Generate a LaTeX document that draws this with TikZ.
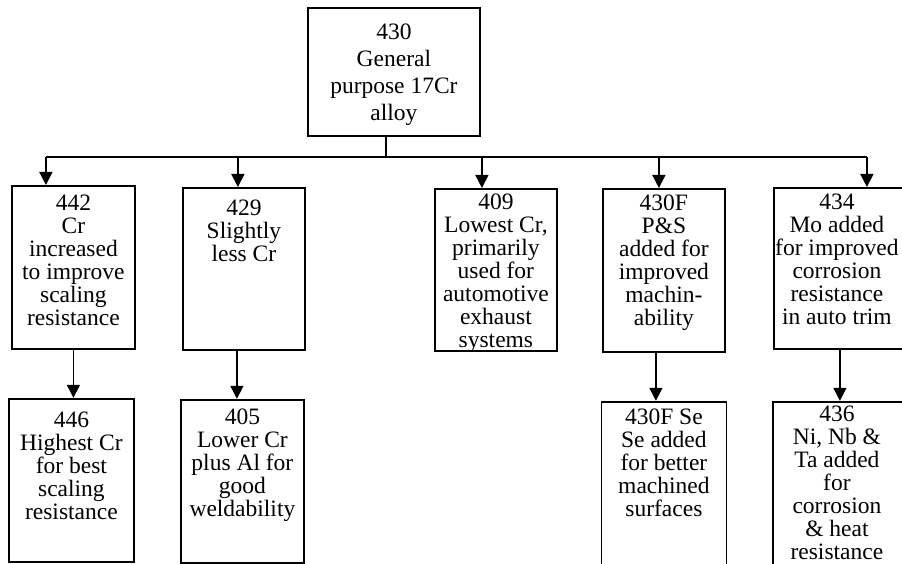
\documentclass[tikz,border=0pt]{standalone}
\usepackage{fontspec}
\setmainfont{Liberation Serif}
\usetikzlibrary{arrows.meta, positioning}
\tikzset{
  alloybox/.style={
    rectangle, draw=black, line width=1.8pt, fill=white,
    minimum width=122pt, minimum height=162pt, inner sep=0pt,
    anchor=north west
  },
  alloytext/.style={
    align=center, inner sep=0pt, font=\fontsize{23.5}{23}\selectfont
  },
  busline/.style={line width=1.5pt, draw=black},
  arrowflow/.style={-{Triangle[width=13pt,length=13pt]}, line width=1.5pt, draw=black}
}

\begin{document}
\begin{tikzpicture}[x=1pt, y=-1pt]
\useasboundingbox (0,0) rectangle (902,564);
\clip (0,0) rectangle (902,564);

% -------- PARENT GRADE --------
\node[alloybox, minimum width=172pt, minimum height=128pt] (n430) at (307,7) {};
\node[alloytext, font=\fontsize{23.5}{27}\selectfont, below=17pt of n430.north] (t430)
  {430\\General\\purpose 17Cr\\alloy};

% -------- FIRST ROW OF VARIANTS --------
\node[alloybox, minimum width=123pt, minimum height=163pt] (n442) at (11,185) {};
\node[alloybox] (n429) at (182,187) {};
\node[alloybox] (n409) at (434,188) {};
\node[alloybox, minimum height=163pt] (n430F) at (602,188) {};
\node[alloybox, minimum width=140pt, minimum height=161pt] (n434) at (773,187) {};

\node[alloytext, below=10pt of n442.north] (t442) {442\\Cr\\increased\\to improve\\scaling\\resistance};
\node[alloytext, below=13pt of n429.north] (t429) {429\\Slightly\\less Cr};
\node[alloytext, below=6pt of n409.north] (t409) {409\\Lowest Cr,\\primarily\\used for\\automotive\\exhaust\\systems};
\node[alloytext, below=7pt of n430F.north] (t430F) {430F\\P\&S\\added for\\improved\\machin-\\ability};
\node[alloytext, below=7pt of n434.north, xshift=-7pt] (t434) {434\\Mo added\\for improved\\corrosion\\resistance\\in auto trim};

% -------- SECOND ROW --------
\node[alloybox, below=48pt of n442, xshift=-2pt, minimum width=125pt, minimum height=163pt] (n446) {};
\node[alloybox, below=48pt of n429, xshift=-1.5pt, minimum width=123pt, minimum height=163pt] (n405) {};
\node[alloybox, below=48pt of n430F, minimum width=125pt, minimum height=180pt] (n430FSe) {};
\node[alloybox, below=51pt of n434, xshift=-1pt, minimum width=140pt, minimum height=180pt] (n436) {};

\node[alloytext, below=14pt of n446.north] (t446) {446\\Highest Cr\\for best\\scaling\\resistance};
\node[alloytext, below=10pt of n405.north] (t405) {405\\Lower Cr\\plus Al for\\good\\weldability};
\node[alloytext, below=8pt of n430FSe.north] (t430FSe) {430F Se\\Se added\\for better\\machined\\surfaces};
\node[alloytext, below=5pt of n436.north, xshift=-6pt] (t436) {436\\Ni, Nb \&\\Ta added\\for\\corrosion\\\& heat\\resistance};

% -------- CONNECTORS --------
\coordinate (bus) at (0,157);
\draw[busline] ([xshift=-8pt]n430.south) -- ([xshift=-8pt]n430.south |- bus);
\draw[busline] ([xshift=-27.5pt]n442.north |- bus) -- ([xshift=23pt]n434.north |- bus);

\foreach \n/\dx in {n442/-27.5, n429/-6, n409/-14, n430F/-5, n434/23}
  \draw[arrowflow] ([xshift=\dx pt]\n.north |- bus) -- ([xshift=\dx pt]\n.north);

\foreach \a/\b/\dx in {n442/n446/0, n429/n405/-7, n430F/n430FSe/-8, n434/n436/-4}
  \draw[arrowflow] ([xshift=\dx pt]\a.south) -- ([xshift=\dx pt]\a.south |- \b.north);

\end{tikzpicture}
\end{document}
